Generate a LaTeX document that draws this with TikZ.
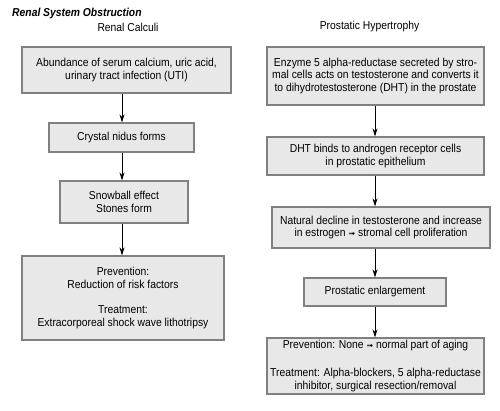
\documentclass[tikz,border=0pt]{standalone}
\usepackage{fontspec}
\setmainfont{Liberation Sans}[FakeStretch=0.9]
\newfontfamily\symfont{DejaVu Sans}
\usetikzlibrary{arrows.meta}
\newcommand{\rarr}{{\symfont\fontsize{8bp}{8bp}\selectfont ➟}}
\tikzset{
  box/.style={draw=black!50, line width=1.2bp, fill=black!9, align=center,
    font=\fontsize{11.5bp}{12.8bp}\selectfont, inner sep=0pt, anchor=center},
  arr/.style={-{Stealth[length=8bp,width=5bp]}, line width=0.8bp, black},
  heading/.style={font=\fontsize{11.5bp}{12.8bp}\selectfont, inner sep=0pt}
}
\begin{document}
\begin{tikzpicture}[x=1bp,y=-1bp]
\useasboundingbox (0,0) rectangle (500,410);
\node[heading, anchor=west, font=\fontsize{11.5bp}{12.8bp}\selectfont\bfseries\itshape] (title) at (12,14) {Renal System Obstruction};
\node[heading] (hl) at (128,27) {Renal Calculi};
\node[heading] (hr) at (369.5,27) {Prostatic Hypertrophy};

% left column
\node[box, minimum width=209bp, minimum height=46bp] (L1) at (126.5,70)
  {Abundance of serum calcium, uric acid,\\urinary tract infection (UTI)};
\node[box, minimum width=145bp, minimum height=29bp] (L2) at (121.5,137.5)
  {Crystal nidus forms};
\node[box, minimum width=128bp, minimum height=42bp] (L3) at (124,202)
  {Snowball effect\\Stones form};
\node[box, minimum width=202bp, minimum height=84bp] (L4) at (123,298)
  {Prevention:\\Reduction of risk factors\\[13bp]Treatment:\\Extracorporeal shock wave lithotripsy};

\coordinate (lx) at (122,0);
\draw[arr] (L1.south -| lx) -- (L2.north -| lx);
\draw[arr] (L2.south -| lx) -- (L3.north -| lx);
\draw[arr] (L3.south -| lx) -- (L4.north -| lx);

% right column
\node[box, minimum width=217bp, minimum height=58bp] (R1) at (375.5,76)
  {Enzyme 5 alpha-reductase secreted by stro-\\mal cells acts on testosterone and converts it\\to dihydrotestosterone (DHT) in the prostate};
\node[box, minimum width=217bp, minimum height=38bp] (R2) at (375.5,156)
  {DHT binds to androgen receptor cells\\in prostatic epithelium};
\node[box, minimum width=218bp, minimum height=41bp] (R3) at (381,227.5)
  {Natural decline in testosterone and increase\\in estrogen \rarr{} stromal cell proliferation};
\node[box, minimum width=142bp, minimum height=28bp] (R4) at (375,292)
  {Prostatic enlargement};
\node[box, minimum width=217bp, minimum height=56bp] (R5) at (375.5,366)
  {Prevention: None \rarr{} normal part of aging\\[15bp]Treatment: Alpha-blockers, 5 alpha-reductase\\inhibitor, surgical resection/removal};

\coordinate (rx) at (375,0);
\draw[arr] (R1.south -| rx) -- (R2.north -| rx);
\draw[arr] (R2.south -| rx) -- (R3.north -| rx);
\draw[arr] (R3.south -| rx) -- (R4.north -| rx);
\draw[arr] (R4.south -| rx) -- (R5.north -| rx);
\end{tikzpicture}
\end{document}
